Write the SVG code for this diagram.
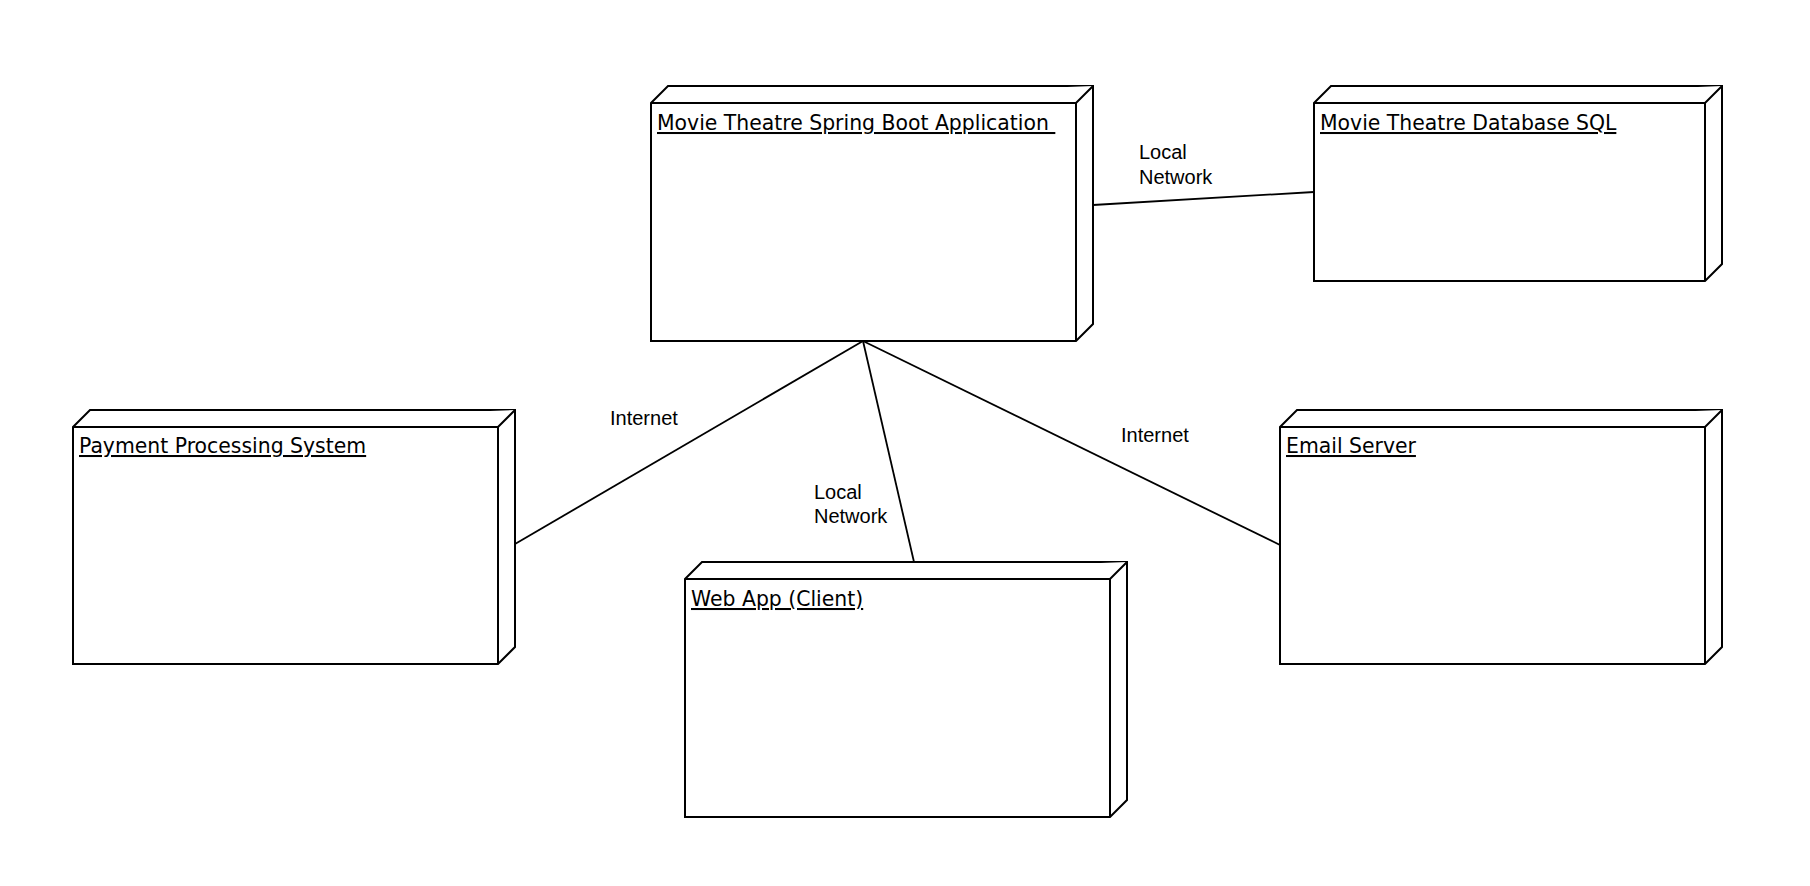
<svg xmlns="http://www.w3.org/2000/svg" width="1810" height="886" viewBox="0 0 1810 886">
<style>
.box{fill:#ffffff;stroke:#000000;stroke-width:2;stroke-linejoin:miter}
.edge{fill:none;stroke:#000000;stroke-width:1.8}
.ntitle{font-family:"DejaVu Sans",Verdana,sans-serif;font-size:20.4px;fill:#000000;text-decoration:underline;white-space:pre}
.lbl{font-family:"Liberation Sans",Arial,Helvetica,sans-serif;font-size:20px;fill:#000000}
</style>
<rect x="0" y="0" width="1810" height="886" fill="#ffffff"/>
<g id="connectors">
<line class="edge" x1="1093" y1="205" x2="1314" y2="192"/>
<line class="edge" x1="863" y1="341" x2="515" y2="544"/>
<line class="edge" x1="863" y1="341" x2="914" y2="562"/>
<line class="edge" x1="863" y1="341" x2="1280" y2="545"/>
<text class="lbl" x="1139" y="159">Local</text>
<text class="lbl" x="1139" y="184">Network</text>
<text class="lbl" x="610" y="425">Internet</text>
<text class="lbl" x="814" y="499">Local</text>
<text class="lbl" x="814" y="523">Network</text>
<text class="lbl" x="1121" y="442">Internet</text>
</g>
<g id="node-spring">
<path class="box" d="M651,103 L668,86 L1093,86 L1093,324 L1076,341 L651,341 Z"/>
<path class="box" d="M651,103 L1076,103 L1093,86 M1076,103 L1076,341"/>
<text class="ntitle" x="657" y="130" xml:space="preserve">Movie Theatre Spring Boot Application </text>
</g>
<g id="node-db">
<path class="box" d="M1314,103 L1331,86 L1722,86 L1722,264 L1705,281 L1314,281 Z"/>
<path class="box" d="M1314,103 L1705,103 L1722,86 M1705,103 L1705,281"/>
<text class="ntitle" x="1320" y="130">Movie Theatre Database SQL</text>
</g>
<g id="node-payment">
<path class="box" d="M73,427 L90,410 L515,410 L515,647 L498,664 L73,664 Z"/>
<path class="box" d="M73,427 L498,427 L515,410 M498,427 L498,664"/>
<text class="ntitle" x="79" y="453">Payment Processing System</text>
</g>
<g id="node-webapp">
<path class="box" d="M685,579 L702,562 L1127,562 L1127,800 L1110,817 L685,817 Z"/>
<path class="box" d="M685,579 L1110,579 L1127,562 M1110,579 L1110,817"/>
<text class="ntitle" x="691" y="606">Web App (Client)</text>
</g>
<g id="node-email">
<path class="box" d="M1280,427 L1297,410 L1722,410 L1722,647 L1705,664 L1280,664 Z"/>
<path class="box" d="M1280,427 L1705,427 L1722,410 M1705,427 L1705,664"/>
<text class="ntitle" x="1286" y="453">Email Server</text>
</g>
</svg>
